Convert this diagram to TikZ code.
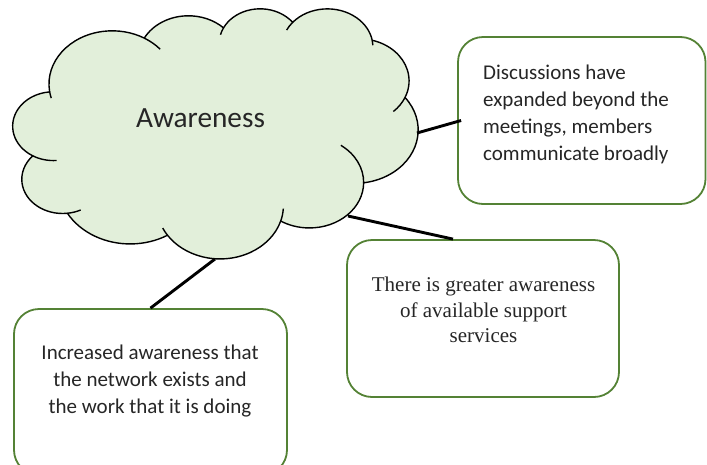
\documentclass[tikz,border=0pt]{standalone}
\usepackage{fontspec}
\setmainfont{Carlito}
\newfontfamily\timesf{Liberation Serif}
\usetikzlibrary{calc}
\definecolor{cloudfill}{HTML}{E2EFDA}
\definecolor{boxgreen}{HTML}{548235}
% convert an OOXML arcTo (visual angles, y down, 432x432 space) into a TikZ arc style
\newcommand\cvt[5]{%
  \pgfmathsetmacro\tmpA{atan2((#2)*sin(#4),(#3)*cos(#4))}%
  \pgfmathsetmacro\tmpB{atan2((#2)*sin((#4)+(#5)),(#3)*cos((#4)+(#5)))}%
  \pgfmathsetmacro\tmpD{mod(\tmpB-\tmpA+720,360)}%
  \pgfmathsetmacro\tmpD{(#5)<0 ? \tmpD-360 : \tmpD}%
  \pgfmathsetmacro\tmpS{-\tmpA}%
  \pgfmathsetmacro\tmpDD{-\tmpD}%
  \pgfmathsetmacro\tmpX{(#2)*0.9375}%
  \pgfmathsetmacro\tmpY{(#3)*0.5787}%
  \edef\tmpcmd{\noexpand\tikzset{#1/.style={start angle=\tmpS, delta angle=\tmpDD, x radius=\tmpX pt, y radius=\tmpY pt}}}%
  \tmpcmd}
\begin{document}
\begin{tikzpicture}[x=1pt,y=-1pt,
  box/.style={draw=boxgreen, line width=1.8pt, rounded corners=25pt, fill=white, inner sep=0pt},
  link/.style={line width=2.9pt, black},
  cloudline/.style={line width=1.4pt, black, line join=round},
  body/.style={font=\fontsize{21}{27.2}\selectfont, text=black!85, inner sep=0pt},
]
\useasboundingbox (0,0) rectangle (707,464);

\cvt{ca1}{67.53}{91.90}{-190.487}{123.781}
\cvt{ca2}{53.33}{72.67}{-144.102}{89.945}
\cvt{ca3}{43.65}{59.45}{-145.808}{99.723}
\cvt{ca4}{48.57}{65.95}{-130.986}{117.242}
\cvt{ca5}{53.33}{72.73}{-78.709}{109.027}
\cvt{ca6}{67.75}{92.20}{-46.267}{130.269}
\cvt{ca7}{57.85}{78.67}{0.625}{114.033}
\cvt{ca8}{67.52}{92.15}{22.452}{115.173}
\cvt{ca9}{77.20}{105.43}{66.243}{75.711}
\cvt{ca10}{43.60}{59.18}{-274.942}{146.736}
\cvt{ca11}{43.45}{59.45}{-246.829}{152.519}

\cvt{tk1}{67.53}{91.90}{-190.487}{-10}
\cvt{tk2}{67.53}{91.90}{-66.706}{17}
\cvt{tk3}{43.65}{59.45}{-145.808}{-15}
\cvt{tk4}{48.57}{65.95}{-130.986}{-15}
\cvt{tk5}{48.57}{65.95}{-13.744}{10}
\cvt{tk6}{53.33}{72.73}{30.318}{25}
\cvt{tk7}{57.85}{78.67}{0.625}{-63}
\cvt{tk8}{67.52}{92.15}{22.452}{-18}
\cvt{tk9}{67.52}{92.15}{137.625}{10}
\cvt{tk10}{43.60}{59.18}{85.058}{-15}
\cvt{tk11}{43.45}{59.45}{113.171}{-26.4}

% cloud outline
\draw[cloudline, fill=cloudfill] (49.56,91.16) coordinate (c0)
  arc[ca1] coordinate (j1) arc[ca2] coordinate (j2) arc[ca3] coordinate (j3)
  arc[ca4] coordinate (j4) arc[ca5] coordinate (j5) arc[ca6] coordinate (j6)
  arc[ca7] coordinate (j7) arc[ca8] coordinate (j8) arc[ca9] coordinate (j9)
  arc[ca10] coordinate (j10) arc[ca11] -- cycle;

% inner ticks of the cloud
\draw[cloudline] (c0) arc[tk1];
\draw[cloudline] (j1) arc[tk2];
\draw[cloudline] (j2) arc[tk3];
\draw[cloudline] (j3) arc[tk4];
\draw[cloudline] (j4) arc[tk5];
\draw[cloudline] (j5) arc[tk6];
\draw[cloudline] (j6) arc[tk7];
\draw[cloudline] (j7) arc[tk8];
\draw[cloudline] (j8) arc[tk9];
\draw[cloudline] (j9) arc[tk10];
\draw[cloudline] (j10) arc[tk11];

\node[font=\fontsize{29.3}{35}\selectfont, text=black!85, anchor=base, inner sep=0pt] (aw) at (200.5,127) {Awareness};

% boxes
\node[box, minimum width=247.5pt, minimum height=167pt] (b1) at (581.75,120.5) {};
\node[box, minimum width=272pt, minimum height=157pt] (b2) at (483,318.5) {};
\node[box, minimum width=273pt, minimum height=166pt] (b3) at (150.5,392) {};

% connectors
\coordinate (cr) at (417,133);
\coordinate (cm) at (348,216);
\coordinate (cb) at (215,259);
\draw[link] (cr) -- ([xshift=4pt]b1.west);
\draw[link] (cm) -- ([xshift=-30pt]b2.north);
\draw[link] (cb) -- (b3.north);

% texts
\node[body, anchor=north west, align=left] (t1) at (483,64.5)
  {Discussions have\\expanded beyond the\\meetings, members\\communicate broadly};
\node[body, font=\timesf\fontsize{21}{25.5}\selectfont, anchor=north, align=center] (t2) at (483.5,277)
  {There is greater awareness\\of available support\\services};
\node[body, anchor=north, align=center] (t3) at (150,344.5)
  {Increased awareness that\\the network exists and\\the work that it is doing};
\end{tikzpicture}
\end{document}
